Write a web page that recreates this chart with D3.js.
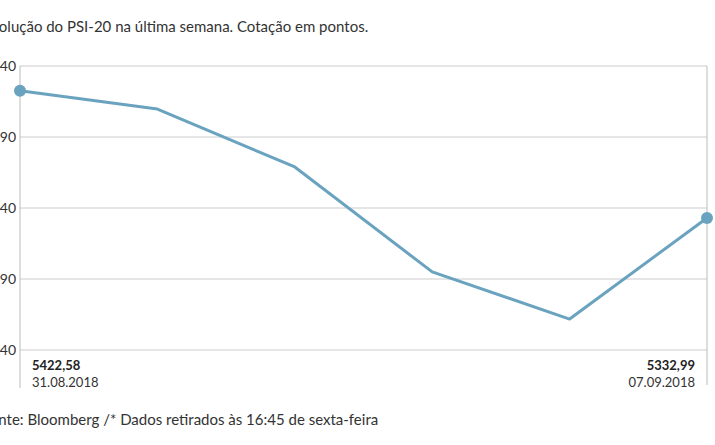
<!DOCTYPE html>
<html><head><meta charset="utf-8">
<script src="https://cdn.jsdelivr.net/npm/d3@7"></script>
<style>body{margin:0;background:#fff;overflow:hidden}text{font-family:Lato,"Open Sans",sans-serif}</style>
</head><body>
<svg id="chart" width="715" height="445"></svg>
<script>
const dates = ["31.08.2018", "03.09.2018", "04.09.2018", "05.09.2018", "06.09.2018", "07.09.2018"];
const values = [5422.58, 5409.7, 5368.9, 5295.0, 5261.8, 5332.99];
const yTicks = [5240, 5290, 5340, 5390, 5440];

const svg = d3.select('#chart');
const x = d3.scalePoint().domain(dates).range([20, 707]);
const y = d3.scaleLinear().domain([5240, 5440]).range([350, 66]);
const fmt = v => v.toFixed(2).replace('.', ',');

svg.append("text").attr("x", -17).attr("y", 32)
    .style("font-size", "15px").style("fill", "#333")
    .text("Evolução do PSI-20 na última semana. Cotação em pontos.");

svg.selectAll(".grid").data(yTicks).enter().append("line")
    .attr("x1", 20).attr("x2", 707)
    .attr("y1", d => y(d)).attr("y2", d => y(d))
    .attr("stroke", "#ccc").attr("stroke-width", 1);

svg.selectAll(".ylab").data(yTicks).enter().append("text")
    .attr("x", 16).attr("y", d => y(d) + 5)
    .attr("text-anchor", "end")
    .style("font-size", "14px").style("fill", "#333")
    .text(d => d);

[[20, 388], [707, 385]].forEach(([xx, y2]) => {
    svg.append("line").attr("x1", xx).attr("x2", xx).attr("y1", 66).attr("y2", y2)
        .attr("stroke", "#bbb").attr("stroke-width", 1);
});

const line = d3.line().x((d, i) => x(dates[i])).y(d => y(d));
svg.append("path").datum(values)
    .attr("fill", "none").attr("stroke", "#6aa3bf")
    .attr("stroke-width", 3).attr("stroke-linejoin", "round")
    .attr("d", line);

const ends = [0, values.length - 1];
svg.selectAll(".dot").data(ends).enter().append("circle")
    .attr("cx", i => x(dates[i])).attr("cy", i => y(values[i]))
    .attr("r", 6).attr("fill", "#6aa3bf");

ends.forEach((i, k) => {
    const anchor = k === 0 ? "start" : "end";
    const xx = k === 0 ? x(dates[i]) + 12 : x(dates[i]) - 12;
    svg.append("text").attr("x", xx).attr("y", 370).attr("text-anchor", anchor)
        .style("font-size", "13px").style("font-weight", "bold").style("fill", "#222")
        .text(fmt(values[i]));
    svg.append("text").attr("x", xx).attr("y", 387).attr("text-anchor", anchor)
        .style("font-size", "13px").style("fill", "#333")
        .text(dates[i]);
});

svg.append("text").attr("x", -18).attr("y", 425)
    .style("font-size", "15px").style("fill", "#333")
    .text("Fonte: Bloomberg /* Dados retirados às 16:45 de sexta-feira");
</script>
</body></html>
